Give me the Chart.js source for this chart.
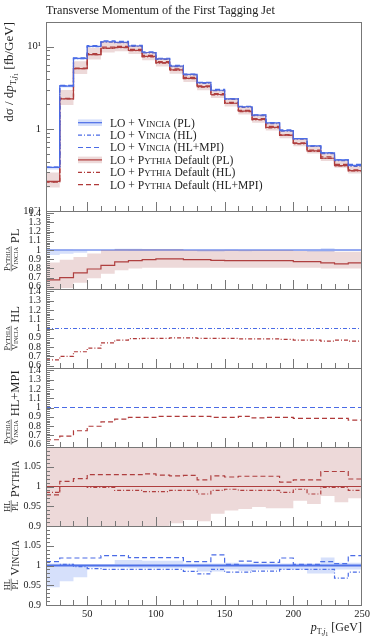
<!DOCTYPE html>
<html>
<head>
<meta charset="utf-8">
<script src="https://cdn.jsdelivr.net/npm/chart.js@4.4.1/dist/chart.umd.min.js"></script>
<style>
  body { margin: 0; background: #fff; }
  #wrap { position: relative; width: 374px; height: 637px; }
  canvas { position: absolute; left: 0; }
</style>
</head>
<body>
<div id="wrap">
  <canvas id="c0"></canvas>
  <canvas id="c1"></canvas>
  <canvas id="c2"></canvas>
  <canvas id="c3"></canvas>
  <canvas id="c4"></canvas>
  <canvas id="c5"></canvas>
</div>
<script>
// bin edges of the pT histogram (GeV)
const edges = [20, 30, 40, 50, 60, 70, 80, 90, 100, 110, 120, 130, 140, 150, 160, 170, 180, 190, 200, 210, 220, 230, 240, 250];

// main panel, dsigma/dpT [fb/GeV]
const vinciaPL  = [0.34, 3.32, 7.2, 10.1, 11.5, 11.3, 10.2, 8.5, 7.1, 5.8, 4.6, 3.65, 2.95, 2.32, 1.86, 1.47, 1.18, 0.95, 0.76, 0.62, 0.51, 0.42, 0.36];
const vinciaHL  = [0.34, 3.33, 7.18, 10.0, 11.4, 11.2, 10.1, 8.42, 7.03, 5.74, 4.53, 3.57, 2.92, 2.28, 1.83, 1.45, 1.16, 0.94, 0.75, 0.61, 0.50, 0.41, 0.35];
const vinciaMPI = [0.343, 3.38, 7.34, 10.3, 11.8, 11.6, 10.4, 8.67, 7.24, 5.92, 4.65, 3.69, 3.03, 2.33, 1.88, 1.48, 1.19, 0.97, 0.76, 0.62, 0.515, 0.42, 0.37];
const vinciaLo  = [0.321, 3.19, 6.98, 10.05, 11.44, 11.24, 10.13, 8.44, 7.05, 5.76, 4.57, 3.60, 2.91, 2.30, 1.84, 1.455, 1.168, 0.94, 0.752, 0.608, 0.50, 0.416, 0.356];
const vinciaHi  = [0.342, 3.34, 7.22, 10.13, 11.53, 11.46, 10.34, 8.60, 7.19, 5.87, 4.62, 3.67, 2.96, 2.34, 1.87, 1.48, 1.19, 0.955, 0.764, 0.623, 0.52, 0.423, 0.363];
const pythiaPL  = [0.23, 2.32, 5.4, 8.01, 9.58, 9.83, 9.02, 7.61, 6.41, 5.24, 4.12, 3.27, 2.62, 2.05, 1.64, 1.30, 1.04, 0.84, 0.663, 0.541, 0.439, 0.356, 0.31];
const pythiaHL  = [0.226, 2.32, 5.4, 7.99, 9.56, 9.73, 8.93, 7.51, 6.33, 5.19, 4.08, 3.21, 2.59, 2.04, 1.62, 1.29, 1.03, 0.83, 0.658, 0.531, 0.438, 0.355, 0.307];
const pythiaMPI = [0.225, 2.35, 5.51, 8.25, 9.87, 10.12, 9.29, 7.85, 6.60, 5.38, 4.24, 3.33, 2.69, 2.10, 1.68, 1.33, 1.07, 0.85, 0.674, 0.55, 0.456, 0.37, 0.316];
const pythiaLo  = [0.193, 1.95, 4.64, 6.99, 8.51, 8.80, 8.14, 6.86, 5.73, 4.68, 3.71, 2.95, 2.38, 1.87, 1.50, 1.19, 0.952, 0.767, 0.613, 0.50, 0.407, 0.335, 0.287];
const pythiaHi  = [0.294, 2.97, 6.65, 9.71, 11.5, 11.4, 10.3, 8.59, 7.17, 5.86, 4.6, 3.65, 2.95, 2.32, 1.86, 1.47, 1.18, 0.95, 0.752, 0.614, 0.505, 0.412, 0.353];

// ratio panels
const unity      = [1, 1, 1, 1, 1, 1, 1, 1, 1, 1, 1, 1, 1, 1, 1, 1, 1, 1, 1, 1, 1, 1, 1];
const ratioPL    = [0.675, 0.70, 0.75, 0.793, 0.833, 0.87, 0.884, 0.895, 0.903, 0.903, 0.895, 0.895, 0.888, 0.884, 0.884, 0.884, 0.884, 0.884, 0.873, 0.873, 0.86, 0.848, 0.86];
const ratioPLLo  = [0.567, 0.586, 0.644, 0.692, 0.74, 0.779, 0.798, 0.807, 0.807, 0.807, 0.807, 0.807, 0.807, 0.807, 0.807, 0.807, 0.807, 0.807, 0.807, 0.807, 0.798, 0.798, 0.798];
const ratioPLHi  = [0.865, 0.894, 0.923, 0.961, 1.0, 1.01, 1.01, 1.01, 1.01, 1.01, 1.0, 1.0, 1.0, 1.0, 1.0, 1.0, 1.0, 1.0, 0.99, 0.99, 0.99, 0.981, 0.981];
const ratioHL    = [0.663, 0.70, 0.75, 0.788, 0.846, 0.875, 0.89, 0.894, 0.894, 0.899, 0.899, 0.894, 0.894, 0.894, 0.889, 0.889, 0.889, 0.884, 0.875, 0.875, 0.865, 0.875, 0.865];
const ratioMPI   = [0.653, 0.692, 0.75, 0.798, 0.846, 0.875, 0.894, 0.894, 0.904, 0.904, 0.904, 0.904, 0.894, 0.894, 0.904, 0.889, 0.894, 0.894, 0.884, 0.884, 0.884, 0.884, 0.865];
const vinciaRelLo = [0.945, 0.96, 0.97, 0.995, 0.995, 0.995, 0.993, 0.993, 0.993, 0.993, 0.993, 0.985, 0.985, 0.99, 0.987, 0.99, 0.99, 0.99, 0.99, 0.98, 0.98, 0.99, 0.99];
const vinciaRelHi = [1.005, 1.005, 1.003, 1.003, 1.003, 1.014, 1.014, 1.012, 1.012, 1.012, 1.005, 1.005, 1.005, 1.007, 1.005, 1.005, 1.005, 1.005, 1.005, 1.005, 1.02, 1.007, 1.007];
const pythiaRelLo = [0.86, 0.86, 0.86, 0.87, 0.87, 0.88, 0.88, 0.89, 0.895, 0.907, 0.915, 0.912, 0.931, 0.939, 0.943, 0.948, 0.945, 0.945, 0.964, 0.956, 0.976, 0.96, 0.97];
const pythiaRelHi = [1.2, 1.2, 1.2, 1.2, 1.2, 1.2, 1.2, 1.2, 1.2, 1.2, 1.2, 1.2, 1.2, 1.2, 1.2, 1.2, 1.2, 1.2, 1.2, 1.2, 1.2, 1.2, 1.2];
const pythiaHLoverPL  = [0.985, 1.0, 1.0, 0.998, 0.998, 0.99, 0.99, 0.987, 0.987, 0.99, 0.99, 0.981, 0.99, 0.993, 0.99, 0.99, 0.99, 0.985, 0.993, 0.981, 0.998, 0.998, 0.99];
const pythiaMPIoverPL = [0.979, 1.013, 1.02, 1.03, 1.03, 1.03, 1.03, 1.032, 1.029, 1.027, 1.028, 1.017, 1.027, 1.024, 1.026, 1.026, 1.026, 1.011, 1.017, 1.017, 1.038, 1.038, 1.019];
const vinciaHLoverPL  = [1.0, 1.003, 0.997, 0.992, 0.99, 0.99, 0.99, 0.99, 0.99, 0.99, 0.985, 0.979, 0.99, 0.983, 0.983, 0.986, 0.986, 0.99, 0.99, 0.99, 0.99, 0.968, 0.983];
const vinciaMPIoverPL = [1.01, 1.019, 1.019, 1.019, 1.025, 1.025, 1.02, 1.02, 1.02, 1.02, 1.01, 1.01, 1.027, 1.003, 1.011, 1.008, 1.008, 1.019, 1.003, 1.003, 1.01, 1.005, 1.025];

// tick labels
const xTickLabels = [50, 100, 150, 200, 250];
const mainTicks = [0.1, 1, 10];
const ratioTicks = [0.6, 0.7, 0.8, 0.9, 1, 1.1, 1.2, 1.3, 1.4];
const fineTicks = [0.9, 0.95, 1, 1.05];

const FONT = "'Liberation Serif', serif";
const BLUE = '#4a6be6';
const RED = '#b03a3a';
const BLUE_BAND = 'rgba(90,130,240,0.25)';
const RED_BAND = 'rgba(175,80,80,0.22)';
const FRAME = '#777';
const TXT = '#222';
const DASH = [5, 3];
const DASHDOT = [4, 2, 1, 2];

function hist(vals, lead) {
  const pts = vals.map((v, i) => ({ x: edges[i], y: v }));
  pts.push({ x: edges[vals.length], y: vals[vals.length - 1] });
  if (lead !== undefined) pts.unshift({ x: edges[0], y: lead });
  return pts;
}
function line(vals, color, dash, width, lead) {
  return { data: hist(vals, lead), borderColor: color, borderWidth: width || 1.2, borderDash: dash || [],
           stepped: 'before', pointRadius: 0, fill: false };
}
function band(lo, hi, color) {
  return [
    { data: hist(lo), borderWidth: 0, borderColor: 'transparent', pointRadius: 0, stepped: 'before', fill: false },
    { data: hist(hi), borderWidth: 0, borderColor: 'transparent', pointRadius: 0, stepped: 'before', fill: '-1', backgroundColor: color }
  ];
}

// rich text: segments {t, s, it, dy}
function fontOf(g) { return (g.it ? 'italic ' : '') + g.s + 'px ' + FONT; }
function seg(t, s, it, dy) { return { t: t, s: s, it: it, dy: dy || 0 }; }
function sc(word, s) { return [seg(word[0], s), seg(word.slice(1).toUpperCase(), s * 0.76)]; }
function measure(ctx, segs) {
  let w = 0;
  segs.forEach(g => { ctx.font = fontOf(g); g.w = ctx.measureText(g.t).width; w += g.w; });
  return w;
}
function drawRich(ctx, segs, x, y, align) {
  const w = measure(ctx, segs);
  let cx = align === 'right' ? x - w : align === 'center' ? x - w / 2 : x;
  segs.forEach(g => { ctx.font = fontOf(g); ctx.fillText(g.t, cx, y + g.dy); cx += g.w; });
  return w;
}

function ratioTitle(ctx, yc, num, den, lab) {
  ctx.save();
  ctx.rotate(-Math.PI / 2);
  ctx.fillStyle = TXT;
  ctx.textBaseline = 'alphabetic';
  const wn = measure(ctx, num), wd = measure(ctx, den), wl = measure(ctx, lab);
  const fw = Math.max(wn, wd) + 1;
  const total = fw + 3 + wl;
  const x0 = -(yc + total / 2);
  drawRich(ctx, num, x0 + fw / 2, 9.5, 'center');
  drawRich(ctx, den, x0 + fw / 2, 17.5, 'center');
  ctx.strokeStyle = TXT; ctx.lineWidth = 0.6;
  ctx.beginPath(); ctx.moveTo(x0, 11.2); ctx.lineTo(x0 + fw, 11.2); ctx.stroke();
  drawRich(ctx, lab, x0 + fw + 3, 19, 'left');
  ctx.restore();
}

function makeFrame(yTickFn, extra) {
  return {
    id: 'rivetFrame',
    afterDatasetsDraw(chart) {
      const ctx = chart.ctx, a = chart.chartArea, xs = chart.scales.x, ys = chart.scales.y;
      ctx.save();
      ctx.strokeStyle = FRAME; ctx.lineWidth = 1;
      ctx.beginPath();
      for (let v = 30; v < 250; v += 10) {
        const px = Math.round(xs.getPixelForValue(v)) + 0.5;
        const len = v % 50 === 0 ? 9 : 5;
        ctx.moveTo(px, a.bottom); ctx.lineTo(px, a.bottom - len);
      }
      yTickFn().forEach(t => {
        const py = Math.round(ys.getPixelForValue(t[0])) + 0.5;
        if (py <= a.top + 1 || py >= a.bottom - 1) return;
        ctx.moveTo(a.left, py); ctx.lineTo(a.left + (t[1] ? 8 : 4), py);
      });
      ctx.stroke();
      ctx.strokeRect(Math.round(a.left) + 0.5, Math.round(a.top) + 0.5, Math.round(a.width) - 1, Math.round(a.height));
      ctx.restore();
    },
    afterDraw(chart) { if (extra) extra(chart); }
  };
}

function logTicks() {
  const t = [];
  [0.1, 1, 10].forEach(d => { for (let k = 1; k < 10; k++) t.push([d * k, k === 1]); });
  return t;
}
function linTicks(lo, hi, step, majorEvery) {
  return () => {
    const t = [];
    for (let i = Math.round(lo / step); i <= Math.round(hi / step); i++) t.push([i * step, i % majorEvery === 0]);
    return t;
  };
}

function fmt(v) { return String(+(+v).toFixed(2)); }

function panel(id, areaTop, areaBottom, yScale, datasets, frame, opts) {
  opts = opts || {};
  const cv = document.getElementById(id);
  const padTop = opts.padTop !== undefined ? opts.padTop : 8;
  const canvasTop = areaTop - padTop;
  const xH = opts.showX ? 32 : 0;
  const padBottom = opts.showX ? 0 : 8;
  cv.width = 374;
  cv.height = (areaBottom - areaTop) + padTop + padBottom + xH;
  cv.style.top = canvasTop + 'px';
  cv.style.width = '374px';
  cv.style.height = cv.height + 'px';
  return new Chart(cv, {
    type: 'line',
    data: { datasets: datasets },
    options: {
      responsive: false, animation: false, devicePixelRatio: 1,
      layout: { padding: { left: 0, right: 12, top: padTop, bottom: padBottom } },
      plugins: { legend: { display: false }, tooltip: { enabled: false }, title: { display: false } },
      scales: {
        x: {
          type: 'linear', min: 20, max: 250, display: !!opts.showX,
          grid: { display: false, drawTicks: false }, border: { display: false },
          afterBuildTicks: s => { s.ticks = xTickLabels.map(v => ({ value: v })); },
          ticks: { autoSkip: false, maxRotation: 0, padding: 3, color: TXT, font: { family: FONT, size: 10.5 } },
          afterFit: s => { s.height = xH; s.paddingLeft = 0; s.paddingRight = 0; }
        },
        y: Object.assign({
          grid: { display: false, drawTicks: false }, border: { display: false },
          afterFit: s => { s.width = 46; s.paddingTop = 0; s.paddingBottom = 0; }
        }, yScale)
      }
    },
    plugins: [makeFrame(frame, opts.extra)]
  });
}

// ---------- main panel ----------
const LS = 11.6;
const legendRows = [
  { segs: () => [seg('LO + ', LS)].concat(sc('Vincia', LS), [seg(' (PL)', LS)]), color: BLUE, dash: [], band: BLUE_BAND },
  { segs: () => [seg('LO + ', LS)].concat(sc('Vincia', LS), [seg(' (HL)', LS)]), color: BLUE, dash: DASHDOT },
  { segs: () => [seg('LO + ', LS)].concat(sc('Vincia', LS), [seg(' (HL+MPI)', LS)]), color: BLUE, dash: DASH },
  { segs: () => [seg('LO + ', LS)].concat(sc('Pythia', LS), [seg(' Default (PL)', LS)]), color: RED, dash: [], band: RED_BAND },
  { segs: () => [seg('LO + ', LS)].concat(sc('Pythia', LS), [seg(' Default (HL)', LS)]), color: RED, dash: DASHDOT },
  { segs: () => [seg('LO + ', LS)].concat(sc('Pythia', LS), [seg(' Default (HL+MPI)', LS)]), color: RED, dash: DASH }
];

function mainExtra(chart) {
  const ctx = chart.ctx;
  ctx.save();
  ctx.fillStyle = TXT;
  ctx.textBaseline = 'alphabetic';
  drawRich(ctx, [seg('Transverse Momentum of the First Tagging Jet', 12.2)], 46, 13.5, 'left');
  // legend
  legendRows.forEach((r, i) => {
    const yc = 122.7 + i * 12.4;
    if (r.band) { ctx.fillStyle = r.band; ctx.fillRect(78, yc - 3.3, 24, 6.6); }
    ctx.strokeStyle = r.color; ctx.lineWidth = 1.2; ctx.setLineDash(r.dash);
    ctx.beginPath(); ctx.moveTo(78, yc); ctx.lineTo(102, yc); ctx.stroke();
    ctx.setLineDash([]);
    ctx.fillStyle = TXT;
    drawRich(ctx, r.segs(), 110, yc + 3.8, 'left');
  });
  // y title
  ctx.rotate(-Math.PI / 2);
  drawRich(ctx, [seg('d\u03c3 / d', 13), seg('p', 13, true), seg('T,', 8.5, false, 3), seg('j', 8.5, true, 3),
                 seg('1', 6.5, false, 5), seg(' [fb/GeV]', 13)], -22, 13, 'right');
  ctx.restore();
}

panel('c0', 22, 211, {
  type: 'logarithmic', min: 0.1, max: 20,
  afterBuildTicks: s => { s.ticks = mainTicks.map(v => ({ value: v })); },
  ticks: { autoSkip: false, padding: 5, color: TXT, font: { family: FONT, size: 10.5 },
           callback: v => v === 10 ? '10\u00b9' : v === 1 ? '1' : '10\u207b\u00b9' }
}, [].concat(
  band(vinciaLo, vinciaHi, BLUE_BAND),
  band(pythiaLo, pythiaHi, RED_BAND),
  [line(vinciaPL, BLUE, [], 1.2, 0.001), line(vinciaHL, BLUE, DASHDOT, 1.2, 0.001), line(vinciaMPI, BLUE, DASH, 1.2, 0.001),
   line(pythiaPL, RED, [], 1.2, 0.001), line(pythiaHL, RED, DASHDOT, 1.2, 0.001), line(pythiaMPI, RED, DASH, 1.2, 0.001)]
), logTicks, { padTop: 22, extra: mainExtra });

// ---------- ratio panels ----------
function ratioY(min, max, labels) {
  return {
    type: 'linear', min: min, max: max,
    afterBuildTicks: s => { s.ticks = labels.map(v => ({ value: v })); },
    ticks: { autoSkip: false, padding: 5, color: TXT, font: { family: FONT, size: 10 }, callback: v => fmt(v) }
  };
}
function titleExtra(num, den, lab) {
  return chart => {
    const a = chart.chartArea;
    ratioTitle(chart.ctx, (a.top + a.bottom) / 2, num(), den(), lab());
  };
}

const FS = 8.3, LB = 12.5;
panel('c1', 211, 289, ratioY(0.575, 1.425, ratioTicks), [].concat(
  band(vinciaRelLo, vinciaRelHi, BLUE_BAND),
  band(ratioPLLo, ratioPLHi, RED_BAND),
  [line(unity, BLUE), line(ratioPL, RED)]
), linTicks(0.58, 1.42, 0.02, 5), { extra: titleExtra(() => sc('Pythia', FS), () => sc('Vincia', FS), () => [seg('PL', LB)]) });

panel('c2', 289, 368, ratioY(0.575, 1.425, ratioTicks), [
  line(unity, BLUE, DASHDOT), line(ratioHL, RED, DASHDOT)
], linTicks(0.58, 1.42, 0.02, 5), { extra: titleExtra(() => sc('Pythia', FS), () => sc('Vincia', FS), () => [seg('HL', LB)]) });

panel('c3', 368, 447, ratioY(0.575, 1.425, ratioTicks), [
  line(unity, BLUE, DASH), line(ratioMPI, RED, DASH)
], linTicks(0.58, 1.42, 0.02, 5), { extra: titleExtra(() => sc('Pythia', FS), () => sc('Vincia', FS), () => [seg('HL+MPI', LB)]) });

panel('c4', 447, 526, ratioY(0.9, 1.1, fineTicks), [].concat(
  band(pythiaRelLo, pythiaRelHi, RED_BAND),
  [line(unity, RED), line(pythiaHLoverPL, RED, DASHDOT), line(pythiaMPIoverPL, RED, DASH)]
), linTicks(0.9, 1.1, 0.01, 5), { extra: titleExtra(() => [seg('HL', FS)], () => [seg('PL', FS)], () => sc('Pythia', LB)) });

function lastExtra(chart) {
  titleExtra(() => [seg('HL', FS)], () => [seg('PL', FS)], () => sc('Vincia', LB))(chart);
  const ctx = chart.ctx;
  ctx.save();
  ctx.fillStyle = TXT;
  ctx.textBaseline = 'alphabetic';
  drawRich(ctx, [seg('p', 12, true), seg('T,', 8, false, 2.5), seg('j', 8, true, 2.5), seg('1', 6, false, 4.5),
                 seg(' [GeV]', 12)], 362, 113, 'right');
  ctx.restore();
}

panel('c5', 526, 605, ratioY(0.9, 1.1, fineTicks), [].concat(
  band(vinciaRelLo, vinciaRelHi, BLUE_BAND),
  [line(unity, BLUE, [], 2), line(vinciaHLoverPL, BLUE, DASHDOT), line(vinciaMPIoverPL, BLUE, DASH)]
), linTicks(0.9, 1.1, 0.01, 5), { showX: true, extra: lastExtra });
</script>
</body>
</html>
